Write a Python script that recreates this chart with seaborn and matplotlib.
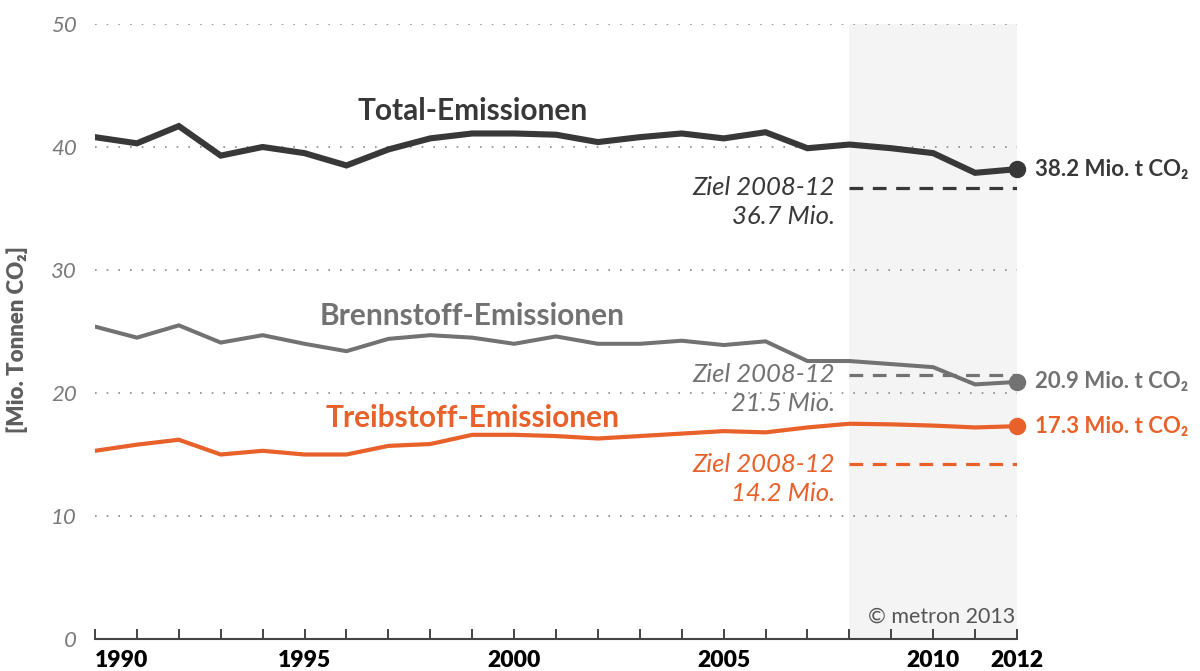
import matplotlib
matplotlib.use("Agg")
import matplotlib.pyplot as plt
import seaborn as sns
import pandas as pd
import numpy as np

# ---------------- data ----------------
years = list(range(1990, 2013))
total = [40.8, 40.3, 41.7, 39.3, 40.0, 39.5, 38.5, 39.8, 40.7, 41.1,
         41.1, 41.0, 40.4, 40.8, 41.1, 40.7, 41.2, 39.9, 40.2, 39.9,
         39.5, 37.9, 38.2]
brennstoff = [25.4, 24.5, 25.5, 24.1, 24.7, 24.0, 23.4, 24.4, 24.7, 24.5,
              24.0, 24.6, 24.0, 24.0, 24.25, 23.9, 24.2, 22.6, 22.6, 22.35,
              22.1, 20.7, 20.9]
treibstoff = [15.3, 15.8, 16.2, 15.0, 15.3, 15.0, 15.0, 15.7, 15.85, 16.6,
              16.6, 16.5, 16.3, 16.5, 16.7, 16.9, 16.8, 17.2, 17.5, 17.45,
              17.35, 17.2, 17.3]
series_names = ["Total-Emissionen", "Brennstoff-Emissionen", "Treibstoff-Emissionen"]
targets = [36.7, 21.5, 14.2]
target_period = [2008, 2012]
end_labels = ["38.2 Mio. t CO₂", "20.9 Mio. t CO₂", "17.3 Mio. t CO₂"]
target_texts = ["36.7 Mio.", "21.5 Mio.", "14.2 Mio."]
yticks = [0, 10, 20, 30, 40, 50]
xlabel_years = [1990, 1995, 2000, 2005, 2010, 2012]

colors = ["#383838", "#727272", "#e8612a"]
lws = [4.4, 2.9, 3.0]

sns.set_theme(style="white")
plt.rcParams["font.family"] = ["Lato", "DejaVu Sans"]

fig = plt.figure(figsize=(12, 6.71), dpi=100)
ax = fig.add_axes([95 / 1200, (671 - 639) / 671, (1017 - 95) / 1200, (639 - 24) / 671])

# shaded target period
ax.axvspan(target_period[0], target_period[1], color="#f4f4f4", zorder=0, lw=0)

# dotted grid
for v in yticks[1:]:
    ax.axhline(v, color="#8a8a8a", lw=1.2, ls=(0, (1, 6)), zorder=1)

df = pd.DataFrame({"Jahr": years * 3,
                   "Wert": total + brennstoff + treibstoff,
                   "Serie": [series_names[0]] * len(years) + [series_names[1]] * len(years)
                   + [series_names[2]] * len(years)})

for i, name in enumerate(series_names):
    sub = df[df["Serie"] == name]
    sns.lineplot(data=sub, x="Jahr", y="Wert", color=colors[i], lw=lws[i], ax=ax,
                 zorder=4 - i * 0.1, legend=False, solid_joinstyle="miter")
    ax.plot([sub["Jahr"].iloc[-1]], [sub["Wert"].iloc[-1]], "o", color=colors[i],
            ms=11.5, clip_on=False, zorder=5)
    # target dashed line
    ax.plot(target_period, [targets[i], targets[i]], color=colors[i], lw=2.3,
            dashes=(4.3, 3.0), zorder=3, solid_capstyle="butt")
    # target labels
    ax.text(2007.66, targets[i], "Ziel 2008-12", ha="right", va="center",
            fontsize=18.5, style="italic", color=colors[i])
    ax.text(2007.66, targets[i] - 2.35, target_texts[i], ha="right", va="center",
            fontsize=18.5, style="italic", color=colors[i])
    # end labels
    ax.text(2012.43, [total, brennstoff, treibstoff][i][-1], end_labels[i],
            ha="left", va="center", fontsize=16, fontweight="bold", color=colors[i])

# series names
name_y = [42.9, 26.3, 18.0]
for i, name in enumerate(series_names):
    ax.text(1999.0, name_y[i], name, ha="center", va="center", fontsize=21.5,
            fontweight="bold", color=colors[i])

ax.set_xlim(1990, 2012)
ax.set_ylim(0, 50)

# x axis
ax.set_xticks(years)
ax.set_xticklabels([str(y) if y in xlabel_years else "" for y in years],
                   fontsize=16.5, fontweight="heavy", color="black")
ax.get_xticklabels()[0].set_horizontalalignment("left")
ax.tick_params(axis="x", direction="in", length=7.5, width=1.4, color="#444444",
               pad=8, bottom=True)

# y axis
ax.set_yticks(yticks)
ax.set_yticklabels([str(v) for v in yticks], fontsize=16, style="italic", color="#7a7a7a")
ax.tick_params(axis="y", length=0, pad=13)

for s in ["top", "right", "left"]:
    ax.spines[s].set_visible(False)
ax.spines["bottom"].set_color("#444444")
ax.spines["bottom"].set_linewidth(1.5)
ax.set_xlabel("")
ax.set_ylabel("")

fig.text(17 / 1200, 1 - 340 / 671, "[Mio. Tonnen CO₂]", rotation=90, ha="center", va="center",
         fontsize=16, fontweight="heavy", color="#5e5e5e")

ax.text(2011.95, 1.8, "© metron 2013", ha="right", va="center", fontsize=15.5, color="#555555")

fig.savefig("out.png", dpi=100)
